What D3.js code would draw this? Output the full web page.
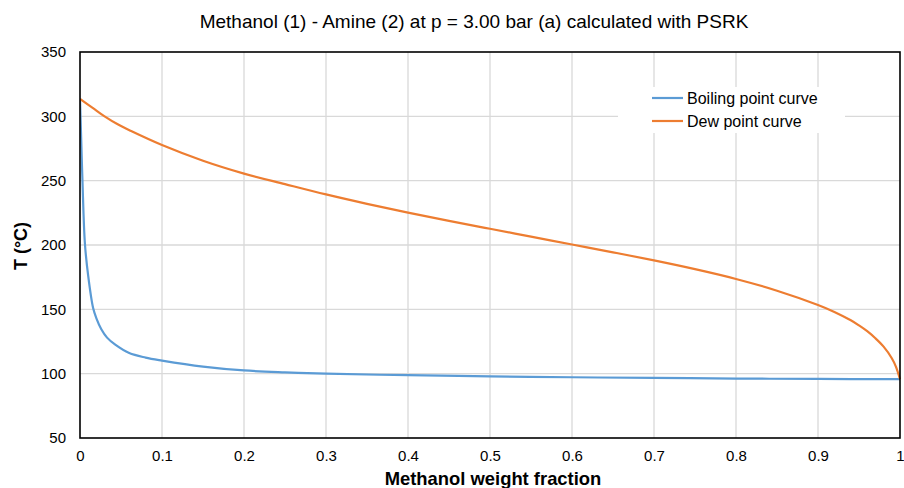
<!DOCTYPE html>
<html><head><meta charset="utf-8">
<script src="https://cdn.jsdelivr.net/npm/d3@7"></script>
<style>body{margin:0;background:#fff;}svg{display:block;font-family:"Liberation Sans",Arial,sans-serif;}</style>
</head><body>
<svg id="c" width="904" height="488"></svg>
<script>
const titleText = "Methanol (1) - Amine (2) at p = 3.00 bar (a) calculated with PSRK";
const xTitle = "Methanol weight fraction";
const yTitle = "T (°C)";
const xTicks = [0,0.1,0.2,0.3,0.4,0.5,0.6,0.7,0.8,0.9,1];
const yTicks = [50,100,150,200,250,300,350];
const seriesNames = ["Boiling point curve","Dew point curve"];
const bubbleX = [0,0.001,0.003,0.006,0.01,0.016,0.02,0.026,0.033,0.043,0.06,0.08,0.1,0.15,0.2,0.25,0.3,0.4,0.5,0.6,0.7,0.8,0.9,1.0];
const bubbleT = [313.5,292,250,201,176,151,143,134.5,128,122.5,116,112.5,110.2,105.5,102.5,101,100,98.8,97.9,97.2,96.7,96.2,95.9,95.7];
const dewX = [0,0.015,0.03,0.046,0.063,0.1,0.15,0.2,0.25,0.3,0.35,0.4,0.45,0.5,0.55,0.6,0.65,0.7,0.75,0.8,0.85,0.9,0.92,0.94,0.95,0.96,0.97,0.98,0.99,0.995,1.0];
const dewT = [313.5,306.8,300,293.8,288.4,277.7,265.5,255.5,247.3,239.3,232,225.2,218.8,212.6,206.5,200.4,194.3,188,181.2,173.6,164.5,153.4,148,141.5,137.5,133,127.5,121,112,105.5,95.7];
const colors = ["#5b9bd5","#ed7d31"];

const svg = d3.select("#c");
const L=80,R=900,T=52,B=438;
const x = d3.scaleLinear().domain([0,1]).range([L,R]);
const y = d3.scaleLinear().domain([50,350]).range([B,T]);

svg.append("defs").append("clipPath").attr("id","clip").append("rect")
  .attr("x",L).attr("y",T).attr("width",R-L+2).attr("height",B-T);

// grid
svg.append("g").selectAll("line").data(xTicks.slice(1,-1)).join("line")
  .attr("x1",d=>x(d)).attr("x2",d=>x(d)).attr("y1",T).attr("y2",B)
  .attr("stroke","#d9d9d9").attr("stroke-width",1.3);
svg.append("g").selectAll("line").data(yTicks.slice(1,-1)).join("line")
  .attr("x1",L).attr("x2",R).attr("y1",d=>y(d)).attr("y2",d=>y(d))
  .attr("stroke","#d9d9d9").attr("stroke-width",1.3);

// axes labels
const xa = svg.append("g").attr("transform",`translate(0,${B})`)
  .call(d3.axisBottom(x).tickValues(xTicks).tickFormat(d=>d3.format("")(d)).tickSize(0).tickPadding(12));
xa.select(".domain").remove();
xa.selectAll("text").attr("font-size",15).attr("fill","#000").attr("font-family","Liberation Sans, Arial, sans-serif");
const ya = svg.append("g").attr("transform",`translate(${L},0)`)
  .call(d3.axisLeft(y).tickValues(yTicks).tickSize(0).tickPadding(14));
ya.select(".domain").remove();
ya.selectAll("text").attr("font-size",15).attr("fill","#000").attr("font-family","Liberation Sans, Arial, sans-serif");

// legend background
const lg = svg.append("g");
lg.append("rect").attr("x",618).attr("y",87).attr("width",227).attr("height",46).attr("fill","#fff");

// lines
const line = d3.line().x(d=>x(d[0])).y(d=>y(d[1])).curve(d3.curveCatmullRom.alpha(0.5));
const bub = bubbleX.map((v,i)=>[v,bubbleT[i]]);
const dew = dewX.map((v,i)=>[v,dewT[i]]);
const lines = svg.append("g").attr("clip-path","url(#clip)");
lines.append("path").datum(bub).attr("d",line).attr("fill","none").attr("stroke",colors[0]).attr("stroke-width",2.2);
lines.append("path").datum(dew).attr("d",line).attr("fill","none").attr("stroke",colors[1]).attr("stroke-width",2.2);

// frame
svg.append("rect").attr("x",L).attr("y",T).attr("width",R-L).attr("height",B-T)
  .attr("fill","none").attr("stroke","#000").attr("stroke-width",1.6);

// legend items
seriesNames.forEach((n,i)=>{
  const yy = 98 + i*23;
  lg.append("line").attr("x1",652).attr("x2",683).attr("y1",yy).attr("y2",yy).attr("stroke",colors[i]).attr("stroke-width",2.2);
  lg.append("text").attr("x",687).attr("y",yy).attr("dy","0.35em").attr("font-size",16).text(n);
});

// titles
svg.append("text").attr("x",474).attr("y",28).attr("text-anchor","middle").attr("font-size",19).text(titleText);
svg.append("text").attr("x",493).attr("y",485).attr("text-anchor","middle").attr("font-size",18.4).attr("font-weight","bold").text(xTitle);
svg.append("text").attr("transform","translate(27,246) rotate(-90)").attr("text-anchor","middle").attr("font-size",18).attr("font-weight","bold").text(yTitle);
</script>
</body></html>
